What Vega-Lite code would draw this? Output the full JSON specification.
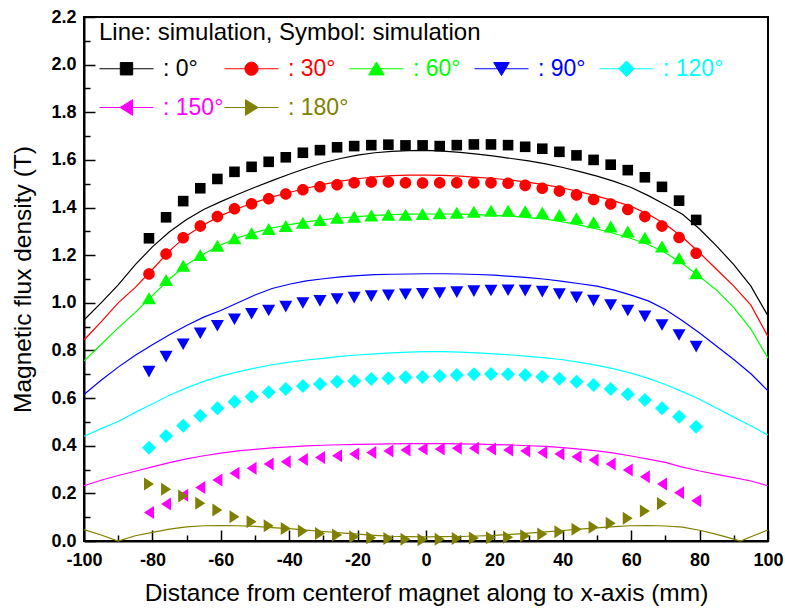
{
"$schema": "https://vega.github.io/schema/vega-lite/v6.json",
"width": 684, "height": 524,
"autosize": {"type": "none"},
"padding": {"left": 84, "top": 17, "right": 17, "bottom": 75},
"background": "white",
"config": {"view": {"stroke": "black", "strokeWidth": 2}, "font": "Liberation Sans, Arial, sans-serif",
 "legend": {"orient": "none", "legendX": 15, "legendY": 4, "direction": "horizontal", "columns": 5, "gridAlign": "all",
  "titleFontSize": 24, "titleFontWeight": "normal", "titleColor": "black", "titlePadding": 12, "titleAnchor": "start", "titleLimit": 0,
  "labelFontSize": 23, "labelOffset": 41, "labelLimit": 0, "symbolSize": 400, "columnPadding": -4, "rowPadding": 15, "padding": 0}},
"datasets": {
"lines": [
{"a":"0","x":-100,"y":0.928},{"a":"0","x":-95,"y":1.0},{"a":"0","x":-90,"y":1.075},{"a":"0","x":-85,"y":1.16},{"a":"0","x":-80,"y":1.235},{"a":"0","x":-75,"y":1.298},{"a":"0","x":-70,"y":1.35},{"a":"0","x":-65,"y":1.392},{"a":"0","x":-60,"y":1.425},{"a":"0","x":-55,"y":1.456},{"a":"0","x":-50,"y":1.485},{"a":"0","x":-45,"y":1.513},{"a":"0","x":-40,"y":1.54},{"a":"0","x":-35,"y":1.565},{"a":"0","x":-30,"y":1.588},{"a":"0","x":-25,"y":1.606},{"a":"0","x":-20,"y":1.62},{"a":"0","x":-15,"y":1.63},{"a":"0","x":-10,"y":1.636},{"a":"0","x":-5,"y":1.639},{"a":"0","x":0,"y":1.64},{"a":"0","x":5,"y":1.637},{"a":"0","x":10,"y":1.632},{"a":"0","x":15,"y":1.624},{"a":"0","x":20,"y":1.616},{"a":"0","x":25,"y":1.606},{"a":"0","x":30,"y":1.596},{"a":"0","x":35,"y":1.583},{"a":"0","x":40,"y":1.568},{"a":"0","x":45,"y":1.551},{"a":"0","x":50,"y":1.532},{"a":"0","x":55,"y":1.51},{"a":"0","x":60,"y":1.484},{"a":"0","x":65,"y":1.45},{"a":"0","x":70,"y":1.412},{"a":"0","x":75,"y":1.372},{"a":"0","x":80,"y":1.31},{"a":"0","x":85,"y":1.238},{"a":"0","x":90,"y":1.16},{"a":"0","x":95,"y":1.07},{"a":"0","x":100,"y":0.945},
{"a":"30","x":-100,"y":0.844},{"a":"30","x":-95,"y":0.92},{"a":"30","x":-90,"y":1.0},{"a":"30","x":-85,"y":1.065},{"a":"30","x":-80,"y":1.14},{"a":"30","x":-75,"y":1.218},{"a":"30","x":-70,"y":1.282},{"a":"30","x":-65,"y":1.328},{"a":"30","x":-60,"y":1.366},{"a":"30","x":-55,"y":1.396},{"a":"30","x":-50,"y":1.422},{"a":"30","x":-45,"y":1.445},{"a":"30","x":-40,"y":1.463},{"a":"30","x":-35,"y":1.481},{"a":"30","x":-30,"y":1.497},{"a":"30","x":-25,"y":1.511},{"a":"30","x":-20,"y":1.521},{"a":"30","x":-15,"y":1.529},{"a":"30","x":-10,"y":1.534},{"a":"30","x":-5,"y":1.536},{"a":"30","x":0,"y":1.536},{"a":"30","x":5,"y":1.535},{"a":"30","x":10,"y":1.532},{"a":"30","x":15,"y":1.527},{"a":"30","x":20,"y":1.522},{"a":"30","x":25,"y":1.515},{"a":"30","x":30,"y":1.506},{"a":"30","x":35,"y":1.495},{"a":"30","x":40,"y":1.482},{"a":"30","x":45,"y":1.466},{"a":"30","x":50,"y":1.448},{"a":"30","x":55,"y":1.428},{"a":"30","x":60,"y":1.405},{"a":"30","x":65,"y":1.372},{"a":"30","x":70,"y":1.33},{"a":"30","x":75,"y":1.275},{"a":"30","x":80,"y":1.21},{"a":"30","x":85,"y":1.14},{"a":"30","x":90,"y":1.07},{"a":"30","x":95,"y":0.99},{"a":"30","x":100,"y":0.858},
{"a":"60","x":-100,"y":0.756},{"a":"60","x":-95,"y":0.825},{"a":"60","x":-90,"y":0.895},{"a":"60","x":-85,"y":0.96},{"a":"60","x":-80,"y":1.03},{"a":"60","x":-75,"y":1.1},{"a":"60","x":-70,"y":1.16},{"a":"60","x":-65,"y":1.205},{"a":"60","x":-60,"y":1.243},{"a":"60","x":-55,"y":1.273},{"a":"60","x":-50,"y":1.296},{"a":"60","x":-45,"y":1.314},{"a":"60","x":-40,"y":1.328},{"a":"60","x":-35,"y":1.34},{"a":"60","x":-30,"y":1.349},{"a":"60","x":-25,"y":1.356},{"a":"60","x":-20,"y":1.362},{"a":"60","x":-15,"y":1.367},{"a":"60","x":-10,"y":1.37},{"a":"60","x":-5,"y":1.372},{"a":"60","x":0,"y":1.373},{"a":"60","x":5,"y":1.373},{"a":"60","x":10,"y":1.372},{"a":"60","x":15,"y":1.37},{"a":"60","x":20,"y":1.367},{"a":"60","x":25,"y":1.364},{"a":"60","x":30,"y":1.358},{"a":"60","x":35,"y":1.351},{"a":"60","x":40,"y":1.34},{"a":"60","x":45,"y":1.326},{"a":"60","x":50,"y":1.31},{"a":"60","x":55,"y":1.291},{"a":"60","x":60,"y":1.27},{"a":"60","x":65,"y":1.245},{"a":"60","x":70,"y":1.21},{"a":"60","x":75,"y":1.165},{"a":"60","x":80,"y":1.11},{"a":"60","x":85,"y":1.053},{"a":"60","x":90,"y":0.98},{"a":"60","x":95,"y":0.89},{"a":"60","x":100,"y":0.767},
{"a":"90","x":-100,"y":0.615},{"a":"90","x":-95,"y":0.675},{"a":"90","x":-90,"y":0.73},{"a":"90","x":-85,"y":0.78},{"a":"90","x":-80,"y":0.824},{"a":"90","x":-75,"y":0.866},{"a":"90","x":-70,"y":0.905},{"a":"90","x":-65,"y":0.94},{"a":"90","x":-60,"y":0.968},{"a":"90","x":-55,"y":1.0},{"a":"90","x":-50,"y":1.033},{"a":"90","x":-45,"y":1.06},{"a":"90","x":-40,"y":1.078},{"a":"90","x":-35,"y":1.092},{"a":"90","x":-30,"y":1.101},{"a":"90","x":-25,"y":1.109},{"a":"90","x":-20,"y":1.114},{"a":"90","x":-15,"y":1.118},{"a":"90","x":-10,"y":1.12},{"a":"90","x":-5,"y":1.121},{"a":"90","x":0,"y":1.122},{"a":"90","x":5,"y":1.122},{"a":"90","x":10,"y":1.121},{"a":"90","x":15,"y":1.119},{"a":"90","x":20,"y":1.116},{"a":"90","x":25,"y":1.111},{"a":"90","x":30,"y":1.106},{"a":"90","x":35,"y":1.099},{"a":"90","x":40,"y":1.09},{"a":"90","x":45,"y":1.08},{"a":"90","x":50,"y":1.07},{"a":"90","x":55,"y":1.053},{"a":"90","x":60,"y":1.032},{"a":"90","x":65,"y":1.008},{"a":"90","x":70,"y":0.972},{"a":"90","x":75,"y":0.925},{"a":"90","x":80,"y":0.873},{"a":"90","x":85,"y":0.818},{"a":"90","x":90,"y":0.762},{"a":"90","x":95,"y":0.702},{"a":"90","x":100,"y":0.63},
{"a":"120","x":-100,"y":0.44},{"a":"120","x":-95,"y":0.472},{"a":"120","x":-90,"y":0.502},{"a":"120","x":-85,"y":0.54},{"a":"120","x":-80,"y":0.575},{"a":"120","x":-75,"y":0.612},{"a":"120","x":-70,"y":0.643},{"a":"120","x":-65,"y":0.67},{"a":"120","x":-60,"y":0.692},{"a":"120","x":-55,"y":0.71},{"a":"120","x":-50,"y":0.726},{"a":"120","x":-45,"y":0.74},{"a":"120","x":-40,"y":0.751},{"a":"120","x":-35,"y":0.76},{"a":"120","x":-30,"y":0.767},{"a":"120","x":-25,"y":0.775},{"a":"120","x":-20,"y":0.781},{"a":"120","x":-15,"y":0.786},{"a":"120","x":-10,"y":0.79},{"a":"120","x":-5,"y":0.793},{"a":"120","x":0,"y":0.795},{"a":"120","x":5,"y":0.795},{"a":"120","x":10,"y":0.793},{"a":"120","x":15,"y":0.79},{"a":"120","x":20,"y":0.786},{"a":"120","x":25,"y":0.781},{"a":"120","x":30,"y":0.775},{"a":"120","x":35,"y":0.769},{"a":"120","x":40,"y":0.761},{"a":"120","x":45,"y":0.75},{"a":"120","x":50,"y":0.737},{"a":"120","x":55,"y":0.723},{"a":"120","x":60,"y":0.705},{"a":"120","x":65,"y":0.683},{"a":"120","x":70,"y":0.657},{"a":"120","x":75,"y":0.627},{"a":"120","x":80,"y":0.595},{"a":"120","x":85,"y":0.557},{"a":"120","x":90,"y":0.52},{"a":"120","x":95,"y":0.484},{"a":"120","x":100,"y":0.445},
{"a":"150","x":-100,"y":0.232},{"a":"150","x":-95,"y":0.255},{"a":"150","x":-90,"y":0.275},{"a":"150","x":-85,"y":0.293},{"a":"150","x":-80,"y":0.311},{"a":"150","x":-75,"y":0.329},{"a":"150","x":-70,"y":0.345},{"a":"150","x":-65,"y":0.358},{"a":"150","x":-60,"y":0.369},{"a":"150","x":-55,"y":0.378},{"a":"150","x":-50,"y":0.385},{"a":"150","x":-45,"y":0.391},{"a":"150","x":-40,"y":0.395},{"a":"150","x":-35,"y":0.399},{"a":"150","x":-30,"y":0.402},{"a":"150","x":-25,"y":0.404},{"a":"150","x":-20,"y":0.406},{"a":"150","x":-15,"y":0.407},{"a":"150","x":-10,"y":0.408},{"a":"150","x":-5,"y":0.409},{"a":"150","x":0,"y":0.409},{"a":"150","x":5,"y":0.409},{"a":"150","x":10,"y":0.408},{"a":"150","x":15,"y":0.407},{"a":"150","x":20,"y":0.405},{"a":"150","x":25,"y":0.403},{"a":"150","x":30,"y":0.4},{"a":"150","x":35,"y":0.397},{"a":"150","x":40,"y":0.392},{"a":"150","x":45,"y":0.386},{"a":"150","x":50,"y":0.378},{"a":"150","x":55,"y":0.369},{"a":"150","x":60,"y":0.357},{"a":"150","x":65,"y":0.344},{"a":"150","x":70,"y":0.33},{"a":"150","x":75,"y":0.31},{"a":"150","x":80,"y":0.294},{"a":"150","x":85,"y":0.28},{"a":"150","x":90,"y":0.266},{"a":"150","x":95,"y":0.252},{"a":"150","x":100,"y":0.232},
{"a":"180","x":-100,"y":0.048},{"a":"180","x":-95,"y":0.025},{"a":"180","x":-90,"y":0.0},{"a":"180","x":-85,"y":0.022},{"a":"180","x":-80,"y":0.036},{"a":"180","x":-75,"y":0.05},{"a":"180","x":-70,"y":0.059},{"a":"180","x":-65,"y":0.064},{"a":"180","x":-60,"y":0.065},{"a":"180","x":-55,"y":0.064},{"a":"180","x":-50,"y":0.061},{"a":"180","x":-45,"y":0.056},{"a":"180","x":-40,"y":0.052},{"a":"180","x":-35,"y":0.046},{"a":"180","x":-30,"y":0.04},{"a":"180","x":-25,"y":0.034},{"a":"180","x":-20,"y":0.029},{"a":"180","x":-15,"y":0.024},{"a":"180","x":-10,"y":0.02},{"a":"180","x":-5,"y":0.018},{"a":"180","x":0,"y":0.017},{"a":"180","x":5,"y":0.018},{"a":"180","x":10,"y":0.019},{"a":"180","x":15,"y":0.021},{"a":"180","x":20,"y":0.024},{"a":"180","x":25,"y":0.028},{"a":"180","x":30,"y":0.033},{"a":"180","x":35,"y":0.038},{"a":"180","x":40,"y":0.044},{"a":"180","x":45,"y":0.05},{"a":"180","x":50,"y":0.055},{"a":"180","x":55,"y":0.06},{"a":"180","x":60,"y":0.064},{"a":"180","x":65,"y":0.065},{"a":"180","x":70,"y":0.063},{"a":"180","x":75,"y":0.058},{"a":"180","x":80,"y":0.045},{"a":"180","x":85,"y":0.028},{"a":"180","x":90,"y":0.008},{"a":"180","x":92,"y":0.0},{"a":"180","x":95,"y":0.018},{"a":"180","x":100,"y":0.046}
],
"points": [
{"a":"0","x":-81,"y":1.271},{"a":"0","x":-76,"y":1.359},{"a":"0","x":-71,"y":1.427},{"a":"0","x":-66,"y":1.481},{"a":"0","x":-61,"y":1.52},{"a":"0","x":-56,"y":1.55},{"a":"0","x":-51,"y":1.571},{"a":"0","x":-46,"y":1.592},{"a":"0","x":-41,"y":1.611},{"a":"0","x":-36,"y":1.63},{"a":"0","x":-31,"y":1.641},{"a":"0","x":-26,"y":1.653},{"a":"0","x":-21,"y":1.658},{"a":"0","x":-16,"y":1.662},{"a":"0","x":-11,"y":1.664},{"a":"0","x":-6,"y":1.661},{"a":"0","x":-1,"y":1.661},{"a":"0","x":4,"y":1.658},{"a":"0","x":9,"y":1.662},{"a":"0","x":14,"y":1.665},{"a":"0","x":19,"y":1.665},{"a":"0","x":24,"y":1.662},{"a":"0","x":29,"y":1.655},{"a":"0","x":34,"y":1.647},{"a":"0","x":39,"y":1.634},{"a":"0","x":44,"y":1.619},{"a":"0","x":49,"y":1.6},{"a":"0","x":54,"y":1.58},{"a":"0","x":59,"y":1.557},{"a":"0","x":64,"y":1.527},{"a":"0","x":69,"y":1.487},{"a":"0","x":74,"y":1.429},{"a":"0","x":79,"y":1.348},
{"a":"30","x":-81,"y":1.121},{"a":"30","x":-76,"y":1.205},{"a":"30","x":-71,"y":1.273},{"a":"30","x":-66,"y":1.322},{"a":"30","x":-61,"y":1.362},{"a":"30","x":-56,"y":1.395},{"a":"30","x":-51,"y":1.416},{"a":"30","x":-46,"y":1.437},{"a":"30","x":-41,"y":1.457},{"a":"30","x":-36,"y":1.475},{"a":"30","x":-31,"y":1.487},{"a":"30","x":-26,"y":1.496},{"a":"30","x":-21,"y":1.504},{"a":"30","x":-16,"y":1.507},{"a":"30","x":-11,"y":1.507},{"a":"30","x":-6,"y":1.504},{"a":"30","x":-1,"y":1.503},{"a":"30","x":4,"y":1.504},{"a":"30","x":9,"y":1.504},{"a":"30","x":14,"y":1.504},{"a":"30","x":19,"y":1.504},{"a":"30","x":24,"y":1.502},{"a":"30","x":29,"y":1.493},{"a":"30","x":34,"y":1.481},{"a":"30","x":39,"y":1.469},{"a":"30","x":44,"y":1.453},{"a":"30","x":49,"y":1.434},{"a":"30","x":54,"y":1.415},{"a":"30","x":59,"y":1.392},{"a":"30","x":64,"y":1.362},{"a":"30","x":69,"y":1.322},{"a":"30","x":74,"y":1.274},{"a":"30","x":79,"y":1.208},
{"a":"60","x":-81,"y":1.019},{"a":"60","x":-76,"y":1.096},{"a":"60","x":-71,"y":1.156},{"a":"60","x":-66,"y":1.201},{"a":"60","x":-61,"y":1.24},{"a":"60","x":-56,"y":1.271},{"a":"60","x":-51,"y":1.292},{"a":"60","x":-46,"y":1.31},{"a":"60","x":-41,"y":1.322},{"a":"60","x":-36,"y":1.336},{"a":"60","x":-31,"y":1.348},{"a":"60","x":-26,"y":1.357},{"a":"60","x":-21,"y":1.361},{"a":"60","x":-16,"y":1.367},{"a":"60","x":-11,"y":1.37},{"a":"60","x":-6,"y":1.37},{"a":"60","x":-1,"y":1.373},{"a":"60","x":4,"y":1.376},{"a":"60","x":9,"y":1.378},{"a":"60","x":14,"y":1.382},{"a":"60","x":19,"y":1.387},{"a":"60","x":24,"y":1.387},{"a":"60","x":29,"y":1.384},{"a":"60","x":34,"y":1.378},{"a":"60","x":39,"y":1.369},{"a":"60","x":44,"y":1.355},{"a":"60","x":49,"y":1.338},{"a":"60","x":54,"y":1.32},{"a":"60","x":59,"y":1.299},{"a":"60","x":64,"y":1.273},{"a":"60","x":69,"y":1.236},{"a":"60","x":74,"y":1.187},{"a":"60","x":79,"y":1.124},
{"a":"90","x":-81,"y":0.711},{"a":"90","x":-76,"y":0.774},{"a":"90","x":-71,"y":0.826},{"a":"90","x":-66,"y":0.872},{"a":"90","x":-61,"y":0.904},{"a":"90","x":-56,"y":0.931},{"a":"90","x":-51,"y":0.954},{"a":"90","x":-46,"y":0.968},{"a":"90","x":-41,"y":0.984},{"a":"90","x":-36,"y":0.999},{"a":"90","x":-31,"y":1.008},{"a":"90","x":-26,"y":1.016},{"a":"90","x":-21,"y":1.022},{"a":"90","x":-16,"y":1.028},{"a":"90","x":-11,"y":1.032},{"a":"90","x":-6,"y":1.036},{"a":"90","x":-1,"y":1.038},{"a":"90","x":4,"y":1.041},{"a":"90","x":9,"y":1.045},{"a":"90","x":14,"y":1.049},{"a":"90","x":19,"y":1.052},{"a":"90","x":24,"y":1.053},{"a":"90","x":29,"y":1.051},{"a":"90","x":34,"y":1.047},{"a":"90","x":39,"y":1.037},{"a":"90","x":44,"y":1.023},{"a":"90","x":49,"y":1.009},{"a":"90","x":54,"y":0.991},{"a":"90","x":59,"y":0.968},{"a":"90","x":64,"y":0.943},{"a":"90","x":69,"y":0.907},{"a":"90","x":74,"y":0.865},{"a":"90","x":79,"y":0.816},
{"a":"120","x":-81,"y":0.392},{"a":"120","x":-76,"y":0.441},{"a":"120","x":-71,"y":0.484},{"a":"120","x":-66,"y":0.526},{"a":"120","x":-61,"y":0.557},{"a":"120","x":-56,"y":0.585},{"a":"120","x":-51,"y":0.606},{"a":"120","x":-46,"y":0.624},{"a":"120","x":-41,"y":0.638},{"a":"120","x":-36,"y":0.651},{"a":"120","x":-31,"y":0.659},{"a":"120","x":-26,"y":0.669},{"a":"120","x":-21,"y":0.672},{"a":"120","x":-16,"y":0.68},{"a":"120","x":-11,"y":0.683},{"a":"120","x":-6,"y":0.687},{"a":"120","x":-1,"y":0.689},{"a":"120","x":4,"y":0.693},{"a":"120","x":9,"y":0.697},{"a":"120","x":14,"y":0.7},{"a":"120","x":19,"y":0.701},{"a":"120","x":24,"y":0.7},{"a":"120","x":29,"y":0.697},{"a":"120","x":34,"y":0.69},{"a":"120","x":39,"y":0.681},{"a":"120","x":44,"y":0.669},{"a":"120","x":49,"y":0.655},{"a":"120","x":54,"y":0.638},{"a":"120","x":59,"y":0.616},{"a":"120","x":64,"y":0.592},{"a":"120","x":69,"y":0.557},{"a":"120","x":74,"y":0.522},{"a":"120","x":79,"y":0.48},
{"a":"150","x":-81,"y":0.12},{"a":"150","x":-76,"y":0.155},{"a":"150","x":-71,"y":0.192},{"a":"150","x":-66,"y":0.225},{"a":"150","x":-61,"y":0.256},{"a":"150","x":-56,"y":0.284},{"a":"150","x":-51,"y":0.305},{"a":"150","x":-46,"y":0.323},{"a":"150","x":-41,"y":0.333},{"a":"150","x":-36,"y":0.342},{"a":"150","x":-31,"y":0.351},{"a":"150","x":-26,"y":0.358},{"a":"150","x":-21,"y":0.365},{"a":"150","x":-16,"y":0.372},{"a":"150","x":-11,"y":0.378},{"a":"150","x":-6,"y":0.382},{"a":"150","x":-1,"y":0.386},{"a":"150","x":4,"y":0.386},{"a":"150","x":9,"y":0.389},{"a":"150","x":14,"y":0.389},{"a":"150","x":19,"y":0.386},{"a":"150","x":24,"y":0.382},{"a":"150","x":29,"y":0.378},{"a":"150","x":34,"y":0.372},{"a":"150","x":39,"y":0.365},{"a":"150","x":44,"y":0.354},{"a":"150","x":49,"y":0.34},{"a":"150","x":54,"y":0.323},{"a":"150","x":59,"y":0.298},{"a":"150","x":64,"y":0.27},{"a":"150","x":69,"y":0.239},{"a":"150","x":74,"y":0.203},{"a":"150","x":79,"y":0.169},
{"a":"180","x":-81,"y":0.239},{"a":"180","x":-76,"y":0.217},{"a":"180","x":-71,"y":0.189},{"a":"180","x":-66,"y":0.158},{"a":"180","x":-61,"y":0.13},{"a":"180","x":-56,"y":0.102},{"a":"180","x":-51,"y":0.081},{"a":"180","x":-46,"y":0.064},{"a":"180","x":-41,"y":0.052},{"a":"180","x":-36,"y":0.042},{"a":"180","x":-31,"y":0.032},{"a":"180","x":-26,"y":0.025},{"a":"180","x":-21,"y":0.018},{"a":"180","x":-16,"y":0.014},{"a":"180","x":-11,"y":0.01},{"a":"180","x":-6,"y":0.007},{"a":"180","x":-1,"y":0.005},{"a":"180","x":4,"y":0.007},{"a":"180","x":9,"y":0.01},{"a":"180","x":14,"y":0.013},{"a":"180","x":19,"y":0.014},{"a":"180","x":24,"y":0.016},{"a":"180","x":29,"y":0.022},{"a":"180","x":34,"y":0.029},{"a":"180","x":39,"y":0.039},{"a":"180","x":44,"y":0.049},{"a":"180","x":49,"y":0.058},{"a":"180","x":54,"y":0.074},{"a":"180","x":59,"y":0.095},{"a":"180","x":64,"y":0.126},{"a":"180","x":69,"y":0.157}
]
},
"layer": [
{
"data": {"name": "lines"},
"mark": {"type": "line", "strokeWidth": 1.2, "interpolate": "linear"},
"encoding": {
"x": {"field": "x", "type": "quantitative", "scale": {"domain": [-100, 100], "nice": false, "zero": false},
 "axis": {"orient": "bottom", "title": "Distance from centerof magnet along to x-axis (mm)", "values": [-100,-80,-60,-40,-20,0,20,40,60,80,100], "labelExpr": "'' + datum.value", "grid": false,
  "domainColor": "black", "domainWidth": 2, "tickColor": "black", "tickWidth": 1.5, "tickSize": -11,
  "labelFontSize": 18, "labelFontWeight": "bold", "labelColor": "black", "labelPadding": 21, "labelFlush": false, "labelOverlap": false,
  "titleFontSize": 24.5, "titleFontWeight": "normal", "titleColor": "black", "titlePadding": 12}},
"y": {"field": "y", "type": "quantitative", "scale": {"domain": [0, 2.2], "nice": false, "zero": false},
 "axis": {"orient": "left", "title": "Magnetic flux density (T)", "values": [0,0.2,0.4,0.6,0.8,1.0,1.2,1.4,1.6,1.8,2.0,2.2], "format": ".1f", "grid": false,
  "domainColor": "black", "domainWidth": 2, "tickColor": "black", "tickWidth": 1.5, "tickSize": -11,
  "labelFontSize": 18, "labelFontWeight": "bold", "labelColor": "black", "labelPadding": 19, "labelFlush": false, "labelOverlap": false,
  "titleFontSize": 24.5, "titleFontWeight": "normal", "titleColor": "black", "titlePadding": 15}},
"color": {"field": "a", "type": "nominal",
 "scale": {"domain": ["0","30","60","90","120","150","180"], "range": ["#000000","#ff0000","#00ff00","#0000ff","#00ffff","#ff00ff","#808000"]},
 "legend": {"title": "Line: simulation, Symbol: simulation", "labelExpr": "': ' + datum.label + '°'",
  "encode": {
   "symbols": {"update": {
    "shape": {"signal": "datum.value==='0'?'M-1.1,0H4.3M0.98,-0.62H2.22V0.62H0.98Z':datum.value==='30'?'M-1.1,0H4.3M2.26,0C2.26,0.364 1.964,0.66 1.6,0.66C1.236,0.66 0.94,0.364 0.94,0C0.94,-0.364 1.236,-0.66 1.6,-0.66C1.964,-0.66 2.26,-0.364 2.26,0Z':datum.value==='60'?'M-1.1,0H4.3M1.6,-0.68L2.38,0.62L0.82,0.62Z':datum.value==='90'?'M-1.1,0H4.3M1.6,0.68L2.38,-0.62L0.82,-0.62Z':datum.value==='120'?'M-1.1,0H4.3M1.6,-0.78L2.38,0L1.6,0.78L0.82,0Z':datum.value==='150'?'M-1.1,0H4.3M0.95,0L2.2,-0.78L2.2,0.78Z':'M-1.1,0H4.3M2.25,0L1.0,-0.78L1.0,0.78Z'"},
    "size": {"value": 400}, "strokeWidth": {"value": 1}, "opacity": {"value": 1}}},
   "labels": {"update": {"fill": {"scale": "color", "field": "value"}}}
  }}}
}
},
{
"data": {"name": "points"},
"transform": [{"filter": {"field": "a", "equal": "0"}}],
"mark": {"type": "point", "filled": true, "opacity": 1, "strokeWidth": 0, "size": 400, "shape": "M-0.53,-0.53H0.53V0.53H-0.53Z"},
"encoding": {
"x": {"field": "x", "type": "quantitative", "scale": {"domain": [-100, 100], "nice": false, "zero": false},
 "axis": {"orient": "bottom", "title": null, "values": [-90,-70,-50,-30,-10,10,30,50,70,90], "labels": false, "domain": false, "grid": false, "tickColor": "black", "tickWidth": 1.5, "tickSize": -6}},
"y": {"field": "y", "type": "quantitative", "scale": {"domain": [0, 2.2], "nice": false, "zero": false},
 "axis": {"orient": "left", "title": null, "values": [0.1,0.3,0.5,0.7,0.9,1.1,1.3,1.5,1.7,1.9,2.1], "labels": false, "domain": false, "grid": false, "tickColor": "black", "tickWidth": 1.5, "tickSize": -6}},
"color": {"field": "a", "type": "nominal",
 "scale": {"domain": ["0","30","60","90","120","150","180"], "range": ["#000000","#ff0000","#00ff00","#0000ff","#00ffff","#ff00ff","#808000"]},
 "legend": {"title": "Line: simulation, Symbol: simulation", "labelExpr": "': ' + datum.label + '°'",
  "encode": {
   "symbols": {"update": {
    "shape": {"signal": "datum.value==='0'?'M-1.1,0H4.3M0.98,-0.62H2.22V0.62H0.98Z':datum.value==='30'?'M-1.1,0H4.3M2.26,0C2.26,0.364 1.964,0.66 1.6,0.66C1.236,0.66 0.94,0.364 0.94,0C0.94,-0.364 1.236,-0.66 1.6,-0.66C1.964,-0.66 2.26,-0.364 2.26,0Z':datum.value==='60'?'M-1.1,0H4.3M1.6,-0.68L2.38,0.62L0.82,0.62Z':datum.value==='90'?'M-1.1,0H4.3M1.6,0.68L2.38,-0.62L0.82,-0.62Z':datum.value==='120'?'M-1.1,0H4.3M1.6,-0.78L2.38,0L1.6,0.78L0.82,0Z':datum.value==='150'?'M-1.1,0H4.3M0.95,0L2.2,-0.78L2.2,0.78Z':'M-1.1,0H4.3M2.25,0L1.0,-0.78L1.0,0.78Z'"},
    "size": {"value": 400}, "strokeWidth": {"value": 1}, "opacity": {"value": 1}}},
   "labels": {"update": {"fill": {"scale": "color", "field": "value"}}}
  }}}
}
},
{
"data": {"name": "points"},
"transform": [{"filter": {"field": "a", "equal": "30"}}],
"mark": {"type": "point", "filled": true, "opacity": 1, "strokeWidth": 0, "size": 400, "shape": "M0.58,0C0.58,0.32 0.32,0.58 0,0.58C-0.32,0.58 -0.58,0.32 -0.58,0C-0.58,-0.32 -0.32,-0.58 0,-0.58C0.32,-0.58 0.58,-0.32 0.58,0Z"},
"encoding": {
"x": {"field": "x", "type": "quantitative", "axis": null},
"y": {"field": "y", "type": "quantitative", "axis": null},
"color": {"field": "a", "type": "nominal",
 "legend": {"title": "Line: simulation, Symbol: simulation", "labelExpr": "': ' + datum.label + '°'",
  "encode": {
   "symbols": {"update": {
    "shape": {"signal": "datum.value==='0'?'M-1.1,0H4.3M0.98,-0.62H2.22V0.62H0.98Z':datum.value==='30'?'M-1.1,0H4.3M2.26,0C2.26,0.364 1.964,0.66 1.6,0.66C1.236,0.66 0.94,0.364 0.94,0C0.94,-0.364 1.236,-0.66 1.6,-0.66C1.964,-0.66 2.26,-0.364 2.26,0Z':datum.value==='60'?'M-1.1,0H4.3M1.6,-0.68L2.38,0.62L0.82,0.62Z':datum.value==='90'?'M-1.1,0H4.3M1.6,0.68L2.38,-0.62L0.82,-0.62Z':datum.value==='120'?'M-1.1,0H4.3M1.6,-0.78L2.38,0L1.6,0.78L0.82,0Z':datum.value==='150'?'M-1.1,0H4.3M0.95,0L2.2,-0.78L2.2,0.78Z':'M-1.1,0H4.3M2.25,0L1.0,-0.78L1.0,0.78Z'"},
    "size": {"value": 400}, "strokeWidth": {"value": 1}, "opacity": {"value": 1}}},
   "labels": {"update": {"fill": {"scale": "color", "field": "value"}}}
  }}}
}
},
{
"data": {"name": "points"},
"transform": [{"filter": {"field": "a", "equal": "60"}}],
"mark": {"type": "point", "filled": true, "opacity": 1, "strokeWidth": 0, "size": 400, "shape": "M0,-0.6L0.7,0.6L-0.7,0.6Z"},
"encoding": {
"x": {"field": "x", "type": "quantitative", "axis": null},
"y": {"field": "y", "type": "quantitative", "axis": null},
"color": {"field": "a", "type": "nominal",
 "legend": {"title": "Line: simulation, Symbol: simulation", "labelExpr": "': ' + datum.label + '°'",
  "encode": {
   "symbols": {"update": {
    "shape": {"signal": "datum.value==='0'?'M-1.1,0H4.3M0.98,-0.62H2.22V0.62H0.98Z':datum.value==='30'?'M-1.1,0H4.3M2.26,0C2.26,0.364 1.964,0.66 1.6,0.66C1.236,0.66 0.94,0.364 0.94,0C0.94,-0.364 1.236,-0.66 1.6,-0.66C1.964,-0.66 2.26,-0.364 2.26,0Z':datum.value==='60'?'M-1.1,0H4.3M1.6,-0.68L2.38,0.62L0.82,0.62Z':datum.value==='90'?'M-1.1,0H4.3M1.6,0.68L2.38,-0.62L0.82,-0.62Z':datum.value==='120'?'M-1.1,0H4.3M1.6,-0.78L2.38,0L1.6,0.78L0.82,0Z':datum.value==='150'?'M-1.1,0H4.3M0.95,0L2.2,-0.78L2.2,0.78Z':'M-1.1,0H4.3M2.25,0L1.0,-0.78L1.0,0.78Z'"},
    "size": {"value": 400}, "strokeWidth": {"value": 1}, "opacity": {"value": 1}}},
   "labels": {"update": {"fill": {"scale": "color", "field": "value"}}}
  }}}
}
},
{
"data": {"name": "points"},
"transform": [{"filter": {"field": "a", "equal": "90"}}],
"mark": {"type": "point", "filled": true, "opacity": 1, "strokeWidth": 0, "size": 400, "shape": "M0,0.58L0.65,-0.58L-0.65,-0.58Z"},
"encoding": {
"x": {"field": "x", "type": "quantitative", "axis": null},
"y": {"field": "y", "type": "quantitative", "axis": null},
"color": {"field": "a", "type": "nominal",
 "legend": {"title": "Line: simulation, Symbol: simulation", "labelExpr": "': ' + datum.label + '°'",
  "encode": {
   "symbols": {"update": {
    "shape": {"signal": "datum.value==='0'?'M-1.1,0H4.3M0.98,-0.62H2.22V0.62H0.98Z':datum.value==='30'?'M-1.1,0H4.3M2.26,0C2.26,0.364 1.964,0.66 1.6,0.66C1.236,0.66 0.94,0.364 0.94,0C0.94,-0.364 1.236,-0.66 1.6,-0.66C1.964,-0.66 2.26,-0.364 2.26,0Z':datum.value==='60'?'M-1.1,0H4.3M1.6,-0.68L2.38,0.62L0.82,0.62Z':datum.value==='90'?'M-1.1,0H4.3M1.6,0.68L2.38,-0.62L0.82,-0.62Z':datum.value==='120'?'M-1.1,0H4.3M1.6,-0.78L2.38,0L1.6,0.78L0.82,0Z':datum.value==='150'?'M-1.1,0H4.3M0.95,0L2.2,-0.78L2.2,0.78Z':'M-1.1,0H4.3M2.25,0L1.0,-0.78L1.0,0.78Z'"},
    "size": {"value": 400}, "strokeWidth": {"value": 1}, "opacity": {"value": 1}}},
   "labels": {"update": {"fill": {"scale": "color", "field": "value"}}}
  }}}
}
},
{
"data": {"name": "points"},
"transform": [{"filter": {"field": "a", "equal": "120"}}],
"mark": {"type": "point", "filled": true, "opacity": 1, "strokeWidth": 0, "size": 400, "shape": "M0,-0.7L0.7,0L0,0.7L-0.7,0Z"},
"encoding": {
"x": {"field": "x", "type": "quantitative", "axis": null},
"y": {"field": "y", "type": "quantitative", "axis": null},
"color": {"field": "a", "type": "nominal",
 "legend": {"title": "Line: simulation, Symbol: simulation", "labelExpr": "': ' + datum.label + '°'",
  "encode": {
   "symbols": {"update": {
    "shape": {"signal": "datum.value==='0'?'M-1.1,0H4.3M0.98,-0.62H2.22V0.62H0.98Z':datum.value==='30'?'M-1.1,0H4.3M2.26,0C2.26,0.364 1.964,0.66 1.6,0.66C1.236,0.66 0.94,0.364 0.94,0C0.94,-0.364 1.236,-0.66 1.6,-0.66C1.964,-0.66 2.26,-0.364 2.26,0Z':datum.value==='60'?'M-1.1,0H4.3M1.6,-0.68L2.38,0.62L0.82,0.62Z':datum.value==='90'?'M-1.1,0H4.3M1.6,0.68L2.38,-0.62L0.82,-0.62Z':datum.value==='120'?'M-1.1,0H4.3M1.6,-0.78L2.38,0L1.6,0.78L0.82,0Z':datum.value==='150'?'M-1.1,0H4.3M0.95,0L2.2,-0.78L2.2,0.78Z':'M-1.1,0H4.3M2.25,0L1.0,-0.78L1.0,0.78Z'"},
    "size": {"value": 400}, "strokeWidth": {"value": 1}, "opacity": {"value": 1}}},
   "labels": {"update": {"fill": {"scale": "color", "field": "value"}}}
  }}}
}
},
{
"data": {"name": "points"},
"transform": [{"filter": {"field": "a", "equal": "150"}}],
"mark": {"type": "point", "filled": true, "opacity": 1, "strokeWidth": 0, "size": 400, "shape": "M-0.5,0L0.5,-0.65L0.5,0.65Z"},
"encoding": {
"x": {"field": "x", "type": "quantitative", "axis": null},
"y": {"field": "y", "type": "quantitative", "axis": null},
"color": {"field": "a", "type": "nominal",
 "legend": {"title": "Line: simulation, Symbol: simulation", "labelExpr": "': ' + datum.label + '°'",
  "encode": {
   "symbols": {"update": {
    "shape": {"signal": "datum.value==='0'?'M-1.1,0H4.3M0.98,-0.62H2.22V0.62H0.98Z':datum.value==='30'?'M-1.1,0H4.3M2.26,0C2.26,0.364 1.964,0.66 1.6,0.66C1.236,0.66 0.94,0.364 0.94,0C0.94,-0.364 1.236,-0.66 1.6,-0.66C1.964,-0.66 2.26,-0.364 2.26,0Z':datum.value==='60'?'M-1.1,0H4.3M1.6,-0.68L2.38,0.62L0.82,0.62Z':datum.value==='90'?'M-1.1,0H4.3M1.6,0.68L2.38,-0.62L0.82,-0.62Z':datum.value==='120'?'M-1.1,0H4.3M1.6,-0.78L2.38,0L1.6,0.78L0.82,0Z':datum.value==='150'?'M-1.1,0H4.3M0.95,0L2.2,-0.78L2.2,0.78Z':'M-1.1,0H4.3M2.25,0L1.0,-0.78L1.0,0.78Z'"},
    "size": {"value": 400}, "strokeWidth": {"value": 1}, "opacity": {"value": 1}}},
   "labels": {"update": {"fill": {"scale": "color", "field": "value"}}}
  }}}
}
},
{
"data": {"name": "points"},
"transform": [{"filter": {"field": "a", "equal": "180"}}],
"mark": {"type": "point", "filled": true, "opacity": 1, "strokeWidth": 0, "size": 400, "shape": "M0.5,0L-0.5,-0.65L-0.5,0.65Z"},
"encoding": {
"x": {"field": "x", "type": "quantitative", "axis": null},
"y": {"field": "y", "type": "quantitative", "axis": null},
"color": {"field": "a", "type": "nominal",
 "legend": {"title": "Line: simulation, Symbol: simulation", "labelExpr": "': ' + datum.label + '°'",
  "encode": {
   "symbols": {"update": {
    "shape": {"signal": "datum.value==='0'?'M-1.1,0H4.3M0.98,-0.62H2.22V0.62H0.98Z':datum.value==='30'?'M-1.1,0H4.3M2.26,0C2.26,0.364 1.964,0.66 1.6,0.66C1.236,0.66 0.94,0.364 0.94,0C0.94,-0.364 1.236,-0.66 1.6,-0.66C1.964,-0.66 2.26,-0.364 2.26,0Z':datum.value==='60'?'M-1.1,0H4.3M1.6,-0.68L2.38,0.62L0.82,0.62Z':datum.value==='90'?'M-1.1,0H4.3M1.6,0.68L2.38,-0.62L0.82,-0.62Z':datum.value==='120'?'M-1.1,0H4.3M1.6,-0.78L2.38,0L1.6,0.78L0.82,0Z':datum.value==='150'?'M-1.1,0H4.3M0.95,0L2.2,-0.78L2.2,0.78Z':'M-1.1,0H4.3M2.25,0L1.0,-0.78L1.0,0.78Z'"},
    "size": {"value": 400}, "strokeWidth": {"value": 1}, "opacity": {"value": 1}}},
   "labels": {"update": {"fill": {"scale": "color", "field": "value"}}}
  }}}
}
}
],
"resolve": {"axis": {"x": "independent", "y": "independent"}}
}
